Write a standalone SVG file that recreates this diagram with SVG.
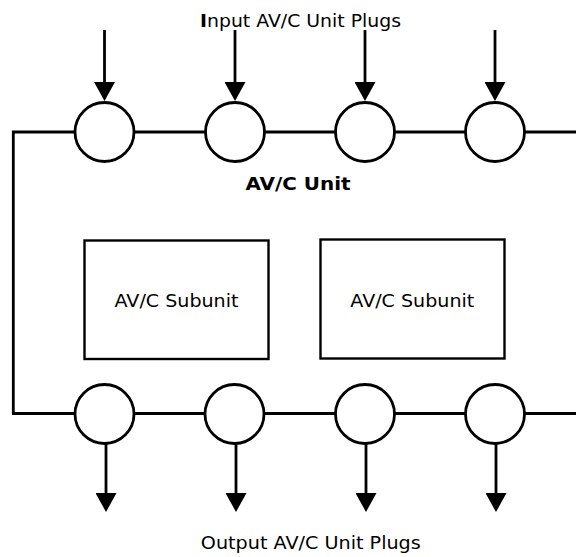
<svg xmlns="http://www.w3.org/2000/svg" width="576" height="557" viewBox="0 0 576 557">
<style>
.wire{fill:none;stroke:#000;stroke-width:2.8}
.arr{fill:none;stroke:#000;stroke-width:2.8;marker-end:url(#ah)}
.plug{fill:#fff;stroke:#000;stroke-width:2.8}
.box{fill:#fff;stroke:#000;stroke-width:2.4}
.t{font-family:"DejaVu Sans",Verdana,sans-serif;font-size:17px;fill:#000}
.b{font-weight:bold}
</style>
<defs>
<marker id="ah" viewBox="0 0 19 21" refX="13" refY="10.5" markerWidth="19" markerHeight="21" markerUnits="userSpaceOnUse" orient="auto">
<path d="M0,0 L19,10.5 L0,21 z" fill="#000"/>
</marker>
</defs>
<rect width="576" height="557" fill="#fff"/>
<g id="connectors">
<path class="wire" d="M576,132 H13.3 V413.5 H576"/>
<line class="arr" x1="104.5" y1="30" x2="104.5" y2="95"/>
<line class="arr" x1="235" y1="30" x2="235" y2="95"/>
<line class="arr" x1="365" y1="30" x2="365" y2="95"/>
<line class="arr" x1="495" y1="30" x2="495" y2="95"/>
<line class="arr" x1="106" y1="441" x2="106" y2="506"/>
<line class="arr" x1="236" y1="441" x2="236" y2="506"/>
<line class="arr" x1="366" y1="441" x2="366" y2="506"/>
<line class="arr" x1="496" y1="441" x2="496" y2="506"/>
</g>
<g id="in1"><circle class="plug" cx="104.5" cy="132" r="29.5"/></g>
<g id="in2"><circle class="plug" cx="235" cy="132" r="29.5"/></g>
<g id="in3"><circle class="plug" cx="365" cy="132" r="29.5"/></g>
<g id="in4"><circle class="plug" cx="495" cy="132" r="29.5"/></g>
<g id="out1"><circle class="plug" cx="104.5" cy="414" r="29.5"/></g>
<g id="out2"><circle class="plug" cx="234.5" cy="414" r="29.5"/></g>
<g id="out3"><circle class="plug" cx="365" cy="414" r="29.5"/></g>
<g id="out4"><circle class="plug" cx="495" cy="414" r="29.5"/></g>
<g id="subunit1">
<rect class="box" x="84.5" y="240.5" width="184" height="118.5"/>
<text class="t" x="176.5" y="307.3" text-anchor="middle" textLength="124" lengthAdjust="spacingAndGlyphs">AV/C Subunit</text>
</g>
<g id="subunit2">
<rect class="box" x="320.5" y="239.5" width="184" height="119"/>
<text class="t" x="412.3" y="307.3" text-anchor="middle" textLength="124" lengthAdjust="spacingAndGlyphs">AV/C Subunit</text>
</g>
<g id="labels">
<text class="t" x="200" y="26.5" textLength="201" lengthAdjust="spacingAndGlyphs"><tspan class="b">I</tspan>nput AV/C Unit Plugs</text>
<text class="t b" x="245.5" y="190" textLength="105" lengthAdjust="spacingAndGlyphs">AV/C Unit</text>
<text class="t" x="200.8" y="549" textLength="220" lengthAdjust="spacingAndGlyphs">Output AV/C Unit Plugs</text>
</g>
</svg>
